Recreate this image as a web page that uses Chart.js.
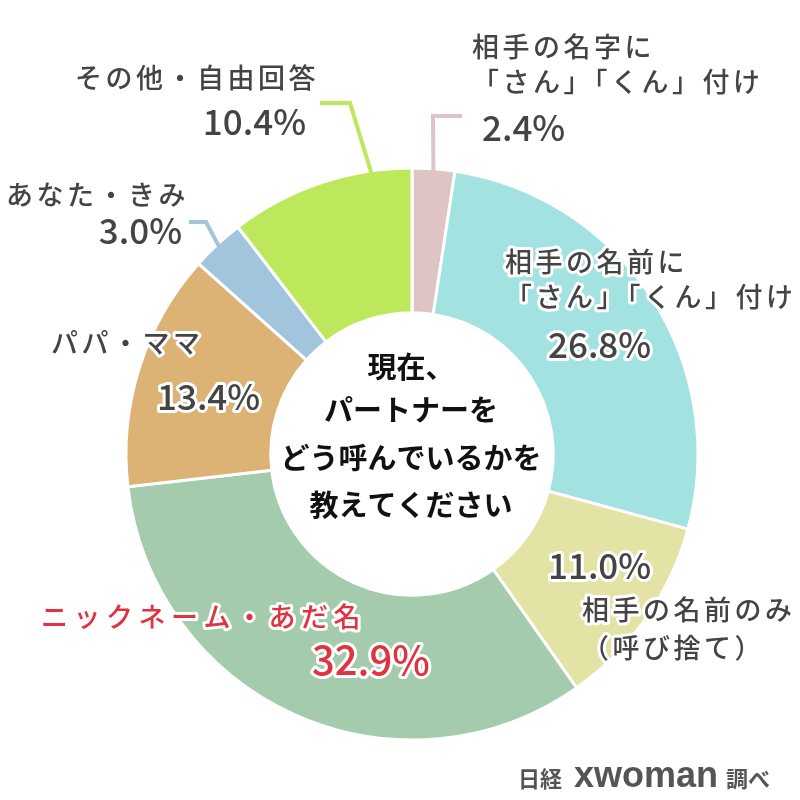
<!DOCTYPE html>
<html>
<head>
<meta charset="utf-8">
<script src="https://cdn.jsdelivr.net/npm/chart.js@4.4.1/dist/chart.umd.min.js"></script>
<style>
  html, body { margin: 0; background: #fff; }
  #chart-canvas { display: block; }
</style>
</head>
<body>
<canvas id="chart-canvas" width="800" height="800"></canvas>
<script>
// data, clockwise from 12 o'clock
const categories = [
  "相手の名字に「さん」「くん」付け",
  "相手の名前に「さん」「くん」付け",
  "相手の名前のみ（呼び捨て）",
  "ニックネーム・あだ名",
  "パパ・ママ",
  "あなた・きみ",
  "その他・自由回答",
];
const shares = [2.4, 26.8, 11.0, 32.9, 13.4, 3.0, 10.4];
const labelLines = [
  ["相手の名字に", "「さん」「くん」付け"],
  ["相手の名前に", "「さん」「くん」付け"],
  ["相手の名前のみ", "（呼び捨て）"],
  ["ニックネーム・あだ名"],
  ["パパ・ママ"],
  ["あなた・きみ"],
  ["その他・自由回答"],
];
const centerLines = ["現在、", "パートナーを", "どう呼んでいるかを", "教えてください"];
const sliceColors = ["#dfc4c6", "#a2e2e1", "#e4e3a6", "#a3cbac", "#dcb275", "#a0c5dc", "#bde85b"];

const FONT = '"Noto Sans CJK JP", "Noto Sans", sans-serif';
const TEXT = "#444444";
const RED = "#e0323f";

// label layout (pixels): name lines, percent, optional leader line
const labelLayout = [
  { align: "left", nameX: 472, nameY: [47, 82], pctX: 482, pctY: 128,
    leader: { at: 0.5, elbow: [433, 116], end: [462, 116] } },
  { align: "left", nameX: 505, nameY: [262, 297], pctX: 548, pctY: 345 },
  { align: "left", nameX: 582, nameY: [610, 648], pctX: 548, pctY: 566 },
  { align: "left", nameX: 41, nameY: [617], pctX: 312, pctY: 660, color: RED, pctSize: 40, spacing: 5.5 },
  { align: "left", nameX: 51, nameY: [343], pctX: 157, pctY: 397 },
  { align: "right", nameX: 189, nameY: [195], pctX: 182, pctY: 231,
    leader: { at: 0.5, elbow: [206, 222], end: [189, 222] } },
  { align: "right", nameX: 319, nameY: [78], pctX: 306, pctY: 122,
    leader: { at: 0.78, elbow: [350, 103], end: [320, 103] } },
];

const outlinedText = (ctx, text, x, y, color) => {
  ctx.lineJoin = "round";
  ctx.strokeStyle = "#ffffff";
  ctx.lineWidth = 6;
  ctx.strokeText(text, x, y);
  ctx.fillStyle = color;
  ctx.fillText(text, x, y);
};

const labelPlugin = {
  id: "labels",
  afterDraw(chart) {
    const ctx = chart.ctx;
    const arcs = chart.getDatasetMeta(0).data;
    ctx.save();

    // leader lines start on the outer edge of their slice
    arcs.forEach((arc, i) => {
      const lay = labelLayout[i];
      if (!lay.leader) return;
      const { startAngle, endAngle, outerRadius, x, y } = arc.getProps(
        ["startAngle", "endAngle", "outerRadius", "x", "y"], true);
      const a = startAngle + (endAngle - startAngle) * lay.leader.at;
      ctx.beginPath();
      ctx.moveTo(x + Math.cos(a) * (outerRadius - 2), y + Math.sin(a) * (outerRadius - 2));
      ctx.lineTo(lay.leader.elbow[0], lay.leader.elbow[1]);
      ctx.lineTo(lay.leader.end[0], lay.leader.end[1]);
      ctx.strokeStyle = sliceColors[i];
      ctx.lineWidth = 4;
      ctx.lineJoin = "miter";
      ctx.stroke();
    });

    ctx.textBaseline = "middle";
    labelLayout.forEach((lay, i) => {
      const color = lay.color || TEXT;
      ctx.textAlign = lay.align;
      ctx.font = `500 27px ${FONT}`;
      ctx.letterSpacing = (lay.spacing || 3.5) + "px";
      labelLines[i].forEach((line, j) => {
        outlinedText(ctx, line, lay.nameX, lay.nameY[j], color);
      });
      ctx.letterSpacing = "0px";
      ctx.font = `500 ${lay.pctSize || 35}px ${FONT}`;
      outlinedText(ctx, shares[i].toFixed(1) + "%", lay.pctX, lay.pctY, color);
    });

    // question in the hole
    const cx = arcs[0].x, cy = arcs[0].y;
    ctx.textAlign = "center";
    ctx.font = `bold 29px ${FONT}`;
    ctx.fillStyle = "#111111";
    const offsets = [-87, -44, 4, 51];
    centerLines.forEach((line, j) => ctx.fillText(line, cx - 1, cy + offsets[j]));

    // source
    ctx.fillStyle = "#555555";
    ctx.textAlign = "left";
    ctx.textBaseline = "alphabetic";
    ctx.font = `bold 22px ${FONT}`;
    ctx.fillText("日経", 518, 787);
    ctx.font = `bold 36px "Liberation Sans", Arial, sans-serif`;
    ctx.fillText("xwoman", 574, 787);
    ctx.font = `bold 22px ${FONT}`;
    ctx.fillText("調べ", 726, 787);
    ctx.restore();
  },
};

const ctx = document.getElementById("chart-canvas").getContext("2d");
new Chart(ctx, {
  type: "doughnut",
  data: {
    labels: categories,
    datasets: [
      {
        data: shares,
        backgroundColor: sliceColors,
        borderColor: "#ffffff",
        borderWidth: 3,
        hoverOffset: 0,
      },
    ],
  },
  options: {
    responsive: false,
    animation: false,
    radius: 286,
    cutout: 140,
    layout: {
      padding: { left: 127, right: 103, top: 168, bottom: 60 },
    },
    plugins: {
      legend: { display: false },
      tooltip: { enabled: false },
    },
  },
  plugins: [labelPlugin],
});
</script>
</body>
</html>
